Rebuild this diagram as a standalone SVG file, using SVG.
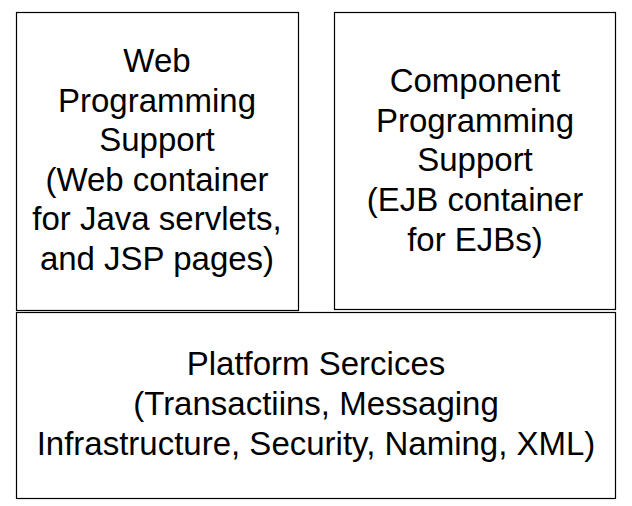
<svg xmlns="http://www.w3.org/2000/svg" width="632" height="506" viewBox="0 0 632 506">
<style>
.box{fill:#fff;stroke:#000;stroke-width:1.2}
.t{font-family:"Liberation Sans",Arial,sans-serif;font-size:33px;fill:#000;text-anchor:middle}
</style>
<rect width="632" height="506" fill="#fff"/>
<g id="web">
<rect class="box" x="16.5" y="12.5" width="282" height="298"/>
<text class="t" x="157" y="71.5">Web</text>
<text class="t" x="157" y="111.5">Programming</text>
<text class="t" x="157" y="151">Support</text>
<text class="t" x="157" y="190.5">(Web container</text>
<text class="t" x="157" y="230">for Java servlets,</text>
<text class="t" x="157" y="270">and JSP pages)</text>
</g>
<g id="component">
<rect class="box" x="334.5" y="12.5" width="281" height="297"/>
<text class="t" x="475" y="91.5">Component</text>
<text class="t" x="475" y="131.5">Programming</text>
<text class="t" x="475" y="171">Support</text>
<text class="t" x="475" y="211">(EJB container</text>
<text class="t" x="475" y="251">for EJBs)</text>
</g>
<g id="platform">
<rect class="box" x="16.5" y="312.5" width="599" height="186"/>
<text class="t" x="316" y="374.5">Platform Sercices</text>
<text class="t" x="316" y="414.5">(Transactiins, Messaging</text>
<text class="t" x="316" y="454.5">Infrastructure, Security, Naming, XML)</text>
</g>
<g id="connectors"></g>
</svg>
